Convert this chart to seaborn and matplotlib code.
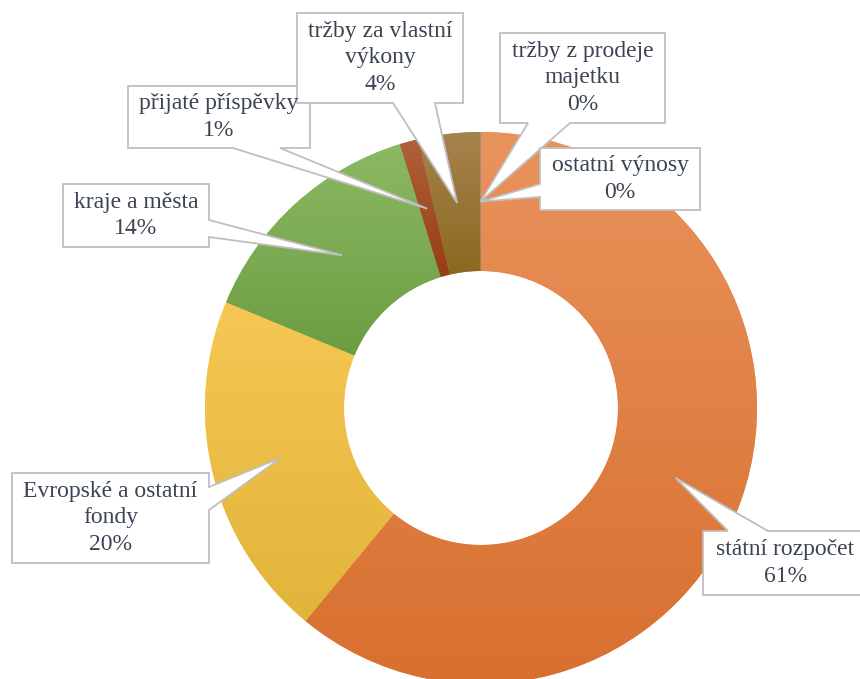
import numpy as np
import seaborn as sns
import matplotlib.pyplot as plt
from matplotlib.colors import LinearSegmentedColormap
from matplotlib.patches import Polygon

# === Data ===
categories = ["státní rozpočet", "Evropské a ostatní\nfondy", "kraje a města",
              "přijaté příspěvky", "tržby za vlastní\nvýkony",
              "tržby z prodeje\nmajetku", "ostatní výnosy"]
shares = [61.0, 20.3, 14.0, 1.1, 3.6, 0.02, 0.03]

# gradient colours (top, bottom) for each slice
top_colors = ["#E9935C", "#F6C753", "#8BB963", "#B0603A", "#A5834E", "#999999", "#666666"]
bottom_colors = ["#D86F2F", "#E1B43A", "#6C9D42", "#963E14", "#8C691F", "#999999", "#666666"]

W, H = 860, 679
def py(y):  # pixel y (from top) -> data y
    return H - y

sns.set_theme(style="white")
plt.rcParams['font.family'] = ['Liberation Serif', 'DejaVu Serif']

fig = plt.figure(figsize=(8.6, 6.79), dpi=100)
ax = fig.add_axes([0, 0, 1, 1])

cx, cy, r_out, r_in = 481, py(408), 276, 137
wedges, _ = ax.pie(shares, colors=top_colors, startangle=90, counterclock=False,
                   radius=r_out, center=(cx, cy),
                   wedgeprops=dict(width=r_out - r_in, edgecolor='none', linewidth=0))

# vertical gradient inside each slice
grad = np.linspace(0, 1, 256).reshape(-1, 1)
for w, c1, c2, v in zip(wedges, top_colors, bottom_colors, shares):
    if v < 0.5:
        continue
    ext = w.get_path().get_extents()
    cmap = LinearSegmentedColormap.from_list("g", [c1, c2])
    im = ax.imshow(grad, extent=(ext.x0, ext.x1, ext.y0, ext.y1), origin='upper',
                   cmap=cmap, aspect='auto', zorder=1.5, interpolation='bilinear')
    im.set_clip_path(w)

# callout boxes: (x0, y0, x1, y1) in px, side of pointer, base start/end along that side
boxes = [
    ((703, 531, 875, 595), 'top', 728, 768),
    ((12, 473, 209, 563), 'right', 487, 510),
    ((63, 184, 209, 247), 'right', 220, 237),
    ((128, 86, 310, 148), 'bottom', 233, 280),
    ((297, 13, 463, 103), 'bottom', 393, 435),
    ((500, 33, 665, 123), 'bottom', 528, 570),
    ((540, 148, 700, 210), 'left', 184, 197),
]

total = sum(shares)
r_mid = (r_out + r_in) / 2
for w, cat, v, (box, side, b1, b2) in zip(wedges, categories, shares, boxes):
    ang = np.deg2rad((w.theta1 + w.theta2) / 2)
    tip = (cx + r_mid * np.cos(ang), cy + r_mid * np.sin(ang))
    x0, y0, x1, y1 = box
    # build outline clockwise (pixel coords) with the pointer inserted on its side
    if side == 'top':
        pts = [(x0, y0), (b1, y0), 'T', (b2, y0), (x1, y0), (x1, y1), (x0, y1)]
    elif side == 'right':
        pts = [(x0, y0), (x1, y0), (x1, b1), 'T', (x1, b2), (x1, y1), (x0, y1)]
    elif side == 'bottom':
        pts = [(x0, y0), (x1, y0), (x1, y1), (b2, y1), 'T', (b1, y1), (x0, y1)]
    else:
        pts = [(x0, y0), (x1, y0), (x1, y1), (x0, y1), (x0, b2), 'T', (x0, b1)]
    verts = [tip if p == 'T' else (p[0], py(p[1])) for p in pts]
    ax.add_patch(Polygon(verts, closed=True, facecolor='white', edgecolor='#BFBFBF',
                         linewidth=1.3, zorder=3, joinstyle='miter'))
    label = f"{cat}\n{v / total * 100:.0f}%"
    tx = (x0 + x1) / 2 if x1 <= W else (x0 + 860) / 2 + 4
    ax.text(tx, py((y0 + y1) / 2), label,
            ha='center', va='center', fontsize=17, color='#3B4453',
            linespacing=1.35, zorder=4)

ax.set_xlim(0, W)
ax.set_ylim(0, H)
ax.set_aspect('equal')
ax.axis('off')
fig.savefig("out.png", dpi=100, facecolor='white')
